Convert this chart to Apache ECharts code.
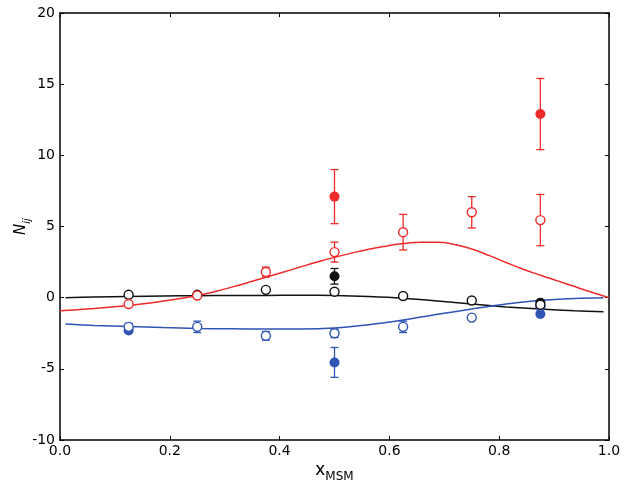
<!DOCTYPE html>
<html><head><meta charset="utf-8">
<script src="https://cdn.jsdelivr.net/npm/echarts@6/dist/echarts.min.js"></script>
<style>html,body{margin:0;padding:0;background:#fff}#c{width:629px;height:484px}</style>
</head><body><div id="c"></div>
<script>
// ---- data ----
const xTicks = [0.0, 0.2, 0.4, 0.6, 0.8, 1.0];
const yTicks = [-10, -5, 0, 5, 10, 15, 20];
const xPts = [0.125, 0.25, 0.375, 0.5, 0.625, 0.75, 0.875];

const redOpen = [-0.45, 0.15, 1.8, 3.2, 4.6, 6.0, 5.45];
const redOpenErr = [0, 0.1, 0.35, 0.7, 1.25, 1.1, 1.8];
const redFilledX = [0.5, 0.875];
const redFilled = [7.1, 12.9];
const redFilledErr = [1.9, 2.5];

const blackOpen = [0.2, 0.2, 0.55, 0.42, 0.12, -0.2, -0.5];
const blackOpenErr = [0, 0, 0, 0, 0, 0, 0];
const blackFilledX = [0.5, 0.875];
const blackFilled = [1.5, -0.35];
const blackFilledErr = [0.55, 0];

const blueOpen = [-2.05, -2.05, -2.68, -2.5, -2.05, -1.4, -0.62];
const blueOpenErr = [0.25, 0.4, 0.3, 0.3, 0.4, 0.15, 0];
const blueFilledX = [0.125, 0.5, 0.875];
const blueFilled = [-2.3, -4.55, -1.15];
const blueFilledErr = [0, 1.05, 0];

const curveX = [0.01, 0.0625, 0.125, 0.1875, 0.25, 0.3125, 0.375, 0.4375, 0.5, 0.5625, 0.625, 0.6875, 0.75, 0.8125, 0.875, 0.9375, 0.99];
const blackCurve = [0.0, 0.05, 0.08, 0.11, 0.14, 0.15, 0.16, 0.17, 0.15, 0.08, -0.04, -0.23, -0.45, -0.65, -0.8, -0.92, -0.99];
const blueCurve = [-1.85, -1.95, -2.02, -2.1, -2.16, -2.19, -2.2, -2.2, -2.13, -1.9, -1.57, -1.17, -0.8, -0.45, -0.18, -0.05, 0.0];
const redCurveX = [0.0, 0.03125, 0.0625, 0.09375, 0.125, 0.15625, 0.1875, 0.21875, 0.25, 0.28125, 0.3125, 0.34375, 0.375, 0.40625, 0.4375, 0.46875, 0.5, 0.53125, 0.5625, 0.59375, 0.625, 0.65625, 0.6875, 0.71875, 0.75, 0.78125, 0.8125, 0.84375, 0.875, 0.90625, 0.9375, 0.96875, 1.0];
const redCurve = [-0.92, -0.85, -0.76, -0.66, -0.55, -0.41, -0.24, -0.06, 0.15, 0.42, 0.74, 1.08, 1.43, 1.79, 2.15, 2.5, 2.83, 3.13, 3.4, 3.62, 3.8, 3.9, 3.9, 3.74, 3.42, 2.97, 2.47, 2.0, 1.58, 1.18, 0.78, 0.38, 0.0];

const RED = '#ee2a2a', BLUE = '#2f54b5', BLACK = '#111111';

function zip(xs, ys) { return xs.map((x, i) => [x, ys[i]]); }
function errData(xs, ys, es) { return xs.map((x, i) => [x, ys[i] - es[i], ys[i] + es[i]]).filter((d, i) => es[i] > 0); }

function errSeries(data, color) {
  return {
    type: 'custom', data: data, z: 3, silent: true,
    renderItem: function (params, api) {
      const x = api.value(0);
      const p1 = api.coord([x, api.value(1)]);
      const p2 = api.coord([x, api.value(2)]);
      const w = 4;
      const st = { stroke: color, lineWidth: 1.3 };
      return { type: 'group', children: [
        { type: 'line', shape: { x1: p1[0], y1: p1[1], x2: p2[0], y2: p2[1] }, style: st },
        { type: 'line', shape: { x1: p1[0] - w, y1: p1[1], x2: p1[0] + w, y2: p1[1] }, style: st },
        { type: 'line', shape: { x1: p2[0] - w, y1: p2[1], x2: p2[0] + w, y2: p2[1] }, style: st }
      ]};
    },
    encode: { x: 0, y: [1, 2] }
  };
}
function openSeries(data, color, z) {
  return { type: 'scatter', data: data, symbol: 'circle', symbolSize: 9, z: z || 4,
    itemStyle: { color: '#fff', borderColor: color, borderWidth: 1.4, opacity: 1 } };
}
function filledSeries(data, color) {
  return { type: 'scatter', data: data, symbol: 'circle', symbolSize: 10, z: 4,
    itemStyle: { color: color, borderColor: color, borderWidth: 0, opacity: 1 } };
}
function lineSeries(data, color, smooth) {
  return { type: 'line', data: data, smooth: smooth, showSymbol: false, z: 2,
    lineStyle: { color: color, width: 1.5 } };
}

const axisLine = { show: true, onZero: false, lineStyle: { color: '#000', width: 1.5 } };
const axisTick = { show: true, inside: true, length: 4, lineStyle: { color: '#000', width: 1 } };
const lblFont = { fontFamily: 'DejaVu Sans', fontSize: 14, color: '#000' };

const chart = echarts.init(document.getElementById('c'));
chart.setOption({
  animation: false,
  grid: { left: 60, right: 20, top: 13, bottom: 44, show: false, containLabel: false, outerBoundsMode: 'none' },
  xAxis: [
    { type: 'value', min: 0, max: 1, interval: 0.2, position: 'bottom',
      axisLine: axisLine, axisTick: axisTick, splitLine: { show: false },
      axisLabel: Object.assign({ margin: 4, formatter: v => v.toFixed(1) }, lblFont),
      name: '{x|x}{s|MSM}', nameLocation: 'middle', nameGap: 22, nameMoveOverlap: false,
      nameTextStyle: { rich: {
        x: { fontFamily: 'DejaVu Sans', fontSize: 17, color: '#000', verticalAlign: 'bottom' },
        s: { fontFamily: 'DejaVu Sans', fontSize: 12, color: '#000', verticalAlign: 'bottom', padding: [0, 0, -4, 0] } } } },
    { type: 'value', min: 0, max: 1, interval: 0.2, position: 'top',
      axisLine: axisLine, axisTick: axisTick, splitLine: { show: false }, axisLabel: { show: false } }
  ],
  yAxis: [
    { type: 'value', min: -10, max: 20, interval: 5, position: 'left',
      axisLine: axisLine, axisTick: axisTick, splitLine: { show: false },
      axisLabel: Object.assign({ margin: 5 }, lblFont),
      name: '{n|N}{s|ij}', nameLocation: 'middle', nameGap: 31, nameRotate: 90, nameMoveOverlap: false,
      nameTextStyle: { rich: {
        n: { fontFamily: 'DejaVu Sans', fontSize: 15, fontStyle: 'italic', color: '#000', verticalAlign: 'bottom' },
        s: { fontFamily: 'DejaVu Sans', fontSize: 10, fontStyle: 'italic', color: '#000', verticalAlign: 'bottom', padding: [0, 0, -3, 0] } } } },
    { type: 'value', min: -10, max: 20, interval: 5, position: 'right',
      axisLine: axisLine, axisTick: axisTick, splitLine: { show: false }, axisLabel: { show: false } }
  ],
  series: [
    lineSeries(zip(curveX, blackCurve), BLACK, 0.3),
    lineSeries(zip(redCurveX, redCurve), RED, 0.5),
    lineSeries(zip(curveX, blueCurve), BLUE, 0.3),
    errSeries(errData(xPts, redOpen, redOpenErr), RED),
    errSeries(errData(redFilledX, redFilled, redFilledErr), RED),
    errSeries(errData(xPts, blackOpen, blackOpenErr), BLACK),
    errSeries(errData(blackFilledX, blackFilled, blackFilledErr), BLACK),
    errSeries(errData(xPts, blueOpen, blueOpenErr), BLUE),
    errSeries(errData(blueFilledX, blueFilled, blueFilledErr), BLUE),
    filledSeries(zip(blueFilledX, blueFilled), BLUE),
    filledSeries(zip(blackFilledX, blackFilled), BLACK),
    openSeries(zip(xPts, blueOpen), BLUE),
    openSeries(zip(xPts, blackOpen), BLACK),
    openSeries(zip(xPts, redOpen), RED, 5),
    filledSeries(zip(redFilledX, redFilled), RED)
  ]
});
</script></body></html>
